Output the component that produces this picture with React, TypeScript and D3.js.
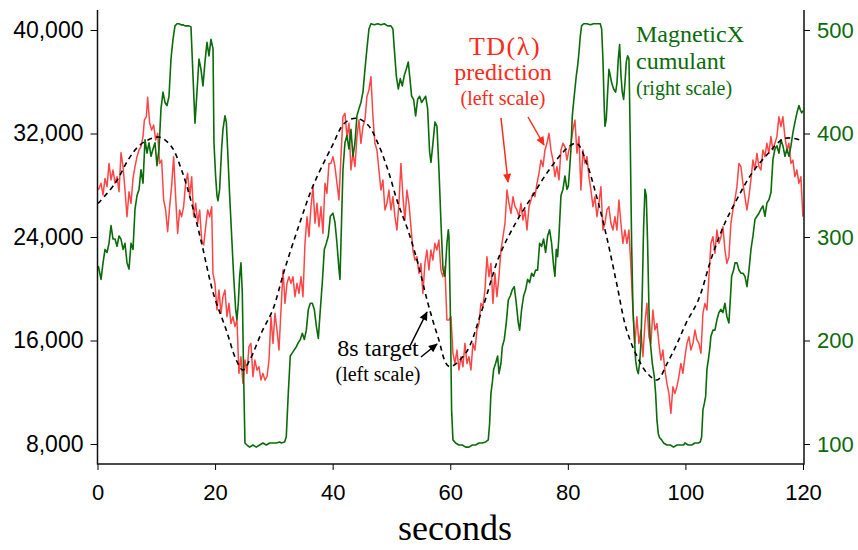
import React, { useEffect, useRef } from 'react';
import * as d3 from 'd3';

// TD(lambda) prediction, left scale
const tdTime = [
  0.14, 0.6, 0.94, 1.28, 1.62, 1.96, 2.3, 2.64, 2.98, 3.32, 3.66, 4.0, 4.34, 4.68, 5.02, 5.36, 5.7, 6.04, 6.38, 6.72,
  7.06, 7.4, 7.74, 7.97, 8.31, 8.53, 8.87, 9.21, 9.55, 9.89, 10.23, 10.57, 10.91, 11.25, 11.59, 11.93, 12.27, 12.6, 12.95, 13.29,
  13.63, 13.97, 14.31, 14.65, 14.99, 15.33, 15.68, 16.02, 16.36, 16.7, 17.04, 17.38, 17.72, 18.06, 18.4, 18.74, 19.08, 19.42,
  19.64, 19.98, 20.32, 20.66, 21.0, 21.34, 21.68, 22.02, 22.36, 22.7, 23.04, 23.38, 23.72, 24.06, 24.4, 24.74, 25.08, 25.42, 25.76, 26.1,
  26.44, 26.78, 27.12, 27.46, 27.8, 28.14, 28.48, 28.83, 29.17, 29.51, 29.85, 30.19, 30.53, 30.87, 31.21, 31.55, 31.89, 32.23, 32.57, 32.91,
  33.25, 33.59, 33.93, 34.27, 34.61, 34.95, 35.29, 35.63, 35.97, 36.31, 36.65, 36.99, 37.33, 37.67, 38.01, 38.35, 38.69, 39.03, 39.37,
  39.71, 40.05, 40.39, 40.73, 41.07, 41.41, 41.75, 42.09, 42.43, 42.77, 43.11, 43.45, 43.79, 44.13, 44.47, 44.81, 45.15, 45.49, 45.83, 46.17,
  46.51, 46.85, 47.19, 47.53, 47.87, 48.21, 48.55, 48.89, 49.23, 49.57, 49.91, 50.25, 50.59, 50.93, 51.27, 51.61, 51.95, 52.29, 52.63, 52.97,
  53.31, 53.65, 53.99, 54.33, 54.67, 55.01, 55.35, 55.69, 56.03, 56.37, 56.71, 57.05, 57.39, 57.73, 58.07, 58.41, 58.75, 59.09, 59.43,
  59.78, 60.12, 60.46, 60.8, 61.14, 61.48, 61.82, 62.16, 62.5, 62.84, 63.18, 63.52, 63.86, 64.2, 64.54, 64.88, 65.22, 65.56, 65.9, 66.24,
  66.58, 66.92, 67.26, 67.6, 67.94, 68.28, 68.63, 68.97, 69.31, 69.65, 69.99, 70.33, 70.67, 71.01, 71.35, 71.69, 72.03, 72.37, 72.71, 73.05,
  73.39, 73.73, 74.07, 74.41, 74.75, 75.09, 75.43, 75.77, 76.11, 76.45, 76.79, 77.13, 77.47, 77.81, 78.15, 78.49, 78.83, 79.17, 79.51,
  79.85, 80.19, 80.53, 80.87, 81.21, 81.55, 81.89, 82.23, 82.57, 82.91, 83.25, 83.59, 83.93, 84.27, 84.61, 84.95, 85.29, 85.63, 85.97, 86.31,
  86.65, 86.99, 87.33, 87.67, 88.01, 88.35, 88.69, 89.03, 89.37, 89.71, 90.05, 90.39, 90.73, 91.07, 91.41, 91.75, 92.09, 92.43, 92.77, 93.11,
  93.45, 93.79, 94.13, 94.47, 94.81, 95.15, 95.49, 95.83, 96.17, 96.51, 96.85, 97.19, 97.53, 97.87, 98.21, 98.55, 98.89, 99.23, 99.57,
  99.92, 100.26, 100.6, 100.94, 101.28, 101.62, 101.96, 102.3, 102.64, 102.98, 103.32, 103.66, 104.0, 104.34, 104.68, 105.02, 105.36, 105.7, 106.04, 106.38,
  106.72, 107.06, 107.4, 107.74, 108.08, 108.42, 108.76, 109.1, 109.44, 109.78, 110.12, 110.46, 110.8, 111.14, 111.48, 111.82, 112.16, 112.5, 112.84, 113.18,
  113.52, 113.86, 114.2, 114.54, 114.88, 115.22, 115.56, 115.9, 116.24, 116.58, 116.92, 117.26, 117.6, 117.94, 118.28, 118.62, 118.96, 119.3, 119.64, 119.98,
];
const tdValue = [
  27630, 28150, 27250, 28530, 27890, 29690, 28410, 29180, 28150, 28660, 27500, 30520, 29440, 27630, 25570, 27500, 26600, 28530, 29440, 30210,
  30730, 30980, 31760, 33040, 33300, 34800, 32790, 32270, 32660, 31500, 32010, 29690, 29950, 26860, 26090, 24410, 26340, 27890, 30210, 27120,
  24280, 26090, 25570, 26340, 28150, 28920, 27120, 28660, 25570, 26600, 25060, 26090, 23770, 23380, 24800, 26090, 25570, 26340,
  21190, 20420, 18360, 19900, 18100, 19390, 19900, 17840, 18870, 17320, 17840, 17070, 17580, 13460, 14750, 12690, 14490, 13460, 15520, 15780,
  13200, 14490, 13720, 13970, 12940, 13460, 12940, 13200, 14490, 17840, 15780, 18100, 16810, 15260, 18360, 21450, 18870, 20420, 20930, 20420,
  20930, 19390, 20420, 19640, 20930, 19390, 23510, 25570, 24020, 26340, 27890, 25060, 26600, 24800, 26340, 24280, 28150, 27380, 29690,
  29690, 30210, 29440, 28150, 26860, 30210, 33300, 33560, 31760, 32790, 29180, 30470, 29440, 31760, 33040, 31240, 32530, 33040, 34850, 35360,
  36390, 33300, 31240, 30730, 29180, 27630, 28410, 26090, 26600, 27630, 26090, 27120, 25570, 24540, 26600, 29690, 27120, 25310, 27630, 26600,
  24800, 22990, 22220, 22480, 21190, 21960, 19640, 21960, 22990, 21450, 22990, 22220, 23510, 22990, 23770, 21450, 20930, 21710, 17580,
  17580, 17840, 15010, 14230, 15260, 13720, 14750, 13970, 15780, 14230, 14750, 13720, 15780, 15260, 16810, 17320, 18870, 18610, 19900, 22480,
  20930, 21960, 18870, 21190, 19390, 20930, 22990, 24020, 25060, 27630, 26600, 25830, 27120, 26340, 26090, 25570, 26600, 25310, 26090, 24540,
  26340, 26860, 27380, 27120, 28150, 28920, 29950, 29440, 30730, 31240, 32010, 30730, 29950, 28660, 29440, 28410, 30730, 31240, 30980,
  29950, 30730, 31240, 32270, 33040, 30470, 31760, 27630, 30730, 29690, 30210, 28660, 27630, 26340, 27120, 25570, 26600, 27890, 24540, 25060,
  26090, 26340, 25060, 24540, 25570, 24540, 26860, 25060, 23510, 24540, 23510, 24540, 21710, 18360, 15780, 17840, 15780, 16810, 14750, 17320,
  18870, 16290, 15780, 18360, 16810, 17320, 15780, 14490, 15260, 13720, 12690, 11910, 10370, 12430, 11910, 12430, 13200, 14230, 13460,
  14750, 15780, 16290, 15260, 15780, 16810, 16040, 15780, 15010, 18100, 18870, 18360, 20930, 23510, 24020, 22740, 24540, 23510, 24020, 24800,
  22990, 21960, 22480, 25060, 26090, 26860, 27890, 29690, 29440, 28150, 27120, 26090, 27120, 28410, 29950, 29180, 30470, 29440, 29180, 30730,
  30210, 31240, 30470, 31760, 30730, 31240, 31760, 33300, 32530, 33300, 31760, 30730, 31240, 29690, 29950, 28660, 29180, 28150, 28660, 25570,
];

// MagneticX cumulant, right scale
const magTime = [
  0.14, 0.6, 0.94, 1.28, 1.62, 1.96, 2.3, 2.64, 2.98, 3.32, 3.66, 4.0, 4.34, 4.68, 5.02, 5.36, 5.7, 6.04, 6.38, 6.72,
  7.06, 7.4, 7.74, 8.08, 8.42, 8.76, 9.1, 9.44, 9.78, 10.12, 10.46, 10.8, 11.14, 11.48, 11.82, 12.16, 12.5, 12.84, 13.18, 13.52,
  13.86, 14.2, 14.54, 14.88, 15.22, 15.56, 15.9, 16.24, 16.58, 16.92, 17.26, 17.6, 17.94, 18.28, 18.62, 18.96, 19.3, 19.65,
  19.81, 20.09, 20.32, 20.49, 20.77, 21.11, 21.34, 21.68, 21.91, 22.13, 22.48, 22.82, 23.16, 23.5, 23.72, 23.95, 24.18, 24.4, 24.63, 24.86,
  25.08, 25.42, 25.88, 26.44, 27.01, 27.58, 28.14, 28.71, 29.28, 29.85, 30.41, 30.98, 31.26, 31.83, 32.11, 32.45, 32.79, 33.13, 33.47, 33.82,
  34.16, 34.5, 34.84, 35.18, 35.52, 35.86, 36.2, 36.54, 36.88, 37.22, 37.56, 37.9, 38.24, 38.58, 38.92, 39.26, 39.6,
  40.05, 40.39, 40.73, 41.07, 41.24, 41.41, 41.75, 42.09, 42.43, 42.77, 43.11, 43.45, 43.79, 44.13, 44.47, 44.81, 45.15, 45.49, 45.83, 46.17,
  46.51, 47.08, 47.65, 48.21, 48.78, 49.35, 49.91, 50.25, 50.48, 50.82, 51.16, 51.5, 51.84, 52.18, 52.52, 52.86, 53.09, 53.43, 53.77, 54.11,
  54.45, 54.79, 55.13, 55.47, 55.81, 56.15, 56.49, 56.72, 57.06, 57.4, 57.74, 58.08, 58.42, 58.76, 59.1, 59.44, 59.67,
  59.78, 60.01, 60.23, 60.46, 60.91, 61.48, 62.05, 62.62, 63.18, 63.75, 64.32, 64.88, 65.45, 66.02, 66.47, 66.7, 66.92, 67.15, 67.38, 67.72,
  68.06, 68.29, 68.63, 68.85, 69.19, 69.53, 69.87, 70.21, 70.55, 70.89, 71.23, 71.57, 71.8, 72.14, 72.48, 72.82, 73.16, 73.5, 73.84, 74.18,
  74.52, 74.86, 75.2, 75.54, 75.88, 76.22, 76.56, 76.9, 77.24, 77.58, 77.81, 78.04, 78.26, 78.49, 78.83, 79.17, 79.51,
  79.85, 80.08, 80.3, 80.53, 80.76, 80.98, 81.21, 81.44, 81.66, 81.89, 82.12, 82.34, 82.69, 83.25, 83.82, 84.39, 84.95, 85.52, 85.75, 85.97,
  86.2, 86.31, 86.54, 86.77, 86.99, 87.22, 87.45, 87.79, 88.13, 88.36, 88.58, 88.81, 89.04, 89.26, 89.49, 89.72, 89.94, 90.17, 90.4, 90.62,
  90.85, 91.08, 91.3, 91.53, 91.76, 91.98, 92.21, 92.44, 92.66, 92.89, 93.12, 93.34, 93.57, 93.8, 94.03, 94.37, 94.71, 94.93, 95.16, 95.39,
  95.61, 95.95, 96.29, 96.86, 97.43, 97.99, 98.56, 99.13, 99.7,
  99.92, 100.49, 101.05, 101.62, 102.19, 102.53, 102.76, 102.98, 103.21, 103.44, 103.66, 103.89, 104.12, 104.34, 104.68, 105.02, 105.36, 105.7, 106.04, 106.38,
  106.72, 107.06, 107.4, 107.63, 107.86, 108.2, 108.43, 108.77, 109.11, 109.45, 109.79, 110.13, 110.47, 110.81, 111.15, 111.49, 111.83, 112.17, 112.51, 112.85,
  113.19, 113.53, 113.87, 114.21, 114.55, 114.89, 115.23, 115.57, 115.91, 116.25, 116.59, 116.93, 117.27, 117.61, 117.95, 118.29, 118.63, 118.97, 119.31, 119.54,
  119.77, 120.0,
];
const magValue = [
  272, 259, 275, 288, 285, 294, 311, 298, 298, 291, 301, 298, 288, 294, 275, 269, 294, 288, 327, 340,
  346, 365, 352, 394, 381, 391, 378, 385, 391, 369, 385, 424, 440, 430, 427, 436, 472, 491, 504, 506,
  506, 505, 505, 504, 504, 504, 503, 456, 410, 440, 472, 462, 446, 469, 488, 475, 491, 482,
  391, 359, 340, 335, 346, 385, 404, 417, 411, 385, 340, 301, 262, 230, 220, 236, 262, 275, 246, 165,
  101, 99, 97, 99, 97, 99, 101, 99, 101, 101, 101, 102, 101, 102, 107, 149, 185, 188, 191, 194,
  198, 201, 207, 201, 210, 230, 236, 236, 230, 214, 202, 230, 256, 288, 294, 301, 320,
  323, 314, 294, 269, 259, 294, 365, 391, 398, 385, 404, 378, 391, 417, 424, 430, 440, 462, 482, 501,
  506, 505, 506, 505, 506, 504, 504, 501, 482, 456, 443, 453, 446, 456, 462, 469, 456, 436, 433, 417,
  433, 436, 430, 433, 436, 424, 382, 372, 391, 411, 407, 365, 314, 269, 262, 294, 307,
  301, 230, 133, 104, 101, 99, 99, 97, 97, 99, 99, 101, 101, 102, 104, 120, 149, 159, 172, 178,
  185, 168, 178, 194, 201, 217, 239, 243, 249, 252, 236, 217, 210, 230, 243, 249, 259, 256, 265, 262,
  268, 268, 294, 291, 298, 285, 301, 307, 294, 272, 262, 288, 281, 301, 340, 346, 359,
  346, 349, 365, 385, 417, 430, 443, 456, 465, 478, 494, 504, 506, 506, 505, 506, 506, 506, 501, 472,
  424, 407, 414, 440, 462, 456, 449, 443, 440, 449, 472, 486, 456, 440, 433, 449, 469, 475, 472, 391,
  294, 230, 204, 181, 172, 168, 178, 198, 246, 310, 346, 340, 294, 230, 198, 178, 165, 149, 123, 110,
  106, 104, 101, 99, 99, 97, 99, 99, 99,
  101, 99, 99, 101, 101, 102, 107, 133, 139, 146, 172, 181, 191, 204, 210, 210, 220, 227, 230, 227,
  236, 223, 217, 239, 262, 268, 275, 275, 268, 265, 265, 262, 252, 268, 288, 301, 317, 320, 323, 327,
  330, 320, 333, 336, 343, 375, 385, 388, 381, 394, 388, 378, 385, 378, 388, 401, 411, 420, 427, 423,
  420, 422,
];

// 8s target, left scale
const targetTime = [
  0.1, 3, 5.2, 6.9, 8.6, 10.6, 12.6, 14.3, 16, 17.7, 19.7, 21.9, 23.6, 24.7, 25.9, 28.1, 29.8, 31.8, 34.4, 36.6,
  39.85, 42, 44, 46, 47.7, 49.4, 51.1, 52.8, 54.5, 56.2, 57.9, 59.8, 62.6, 65.4, 68.3, 71.1, 73.9, 76.8, 79.85, 81.5,
  83.2, 84.9, 86.6, 88.3, 90, 91.8, 93.5, 95.2, 96.9, 98.6, 100.1, 102.2, 104.5, 106.7, 109, 111.3, 114.1, 116.9, 119.5,
];
const targetValue = [
  26600, 28150, 29950, 30980, 31500, 31710, 30980, 29180, 26630, 23540, 19650, 16810, 14490, 13720, 14490, 16810, 18360, 21450, 25080, 27890,
  30980, 32790, 33180, 32660, 31240, 29180, 26610, 24540, 21970, 18880, 16290, 14000, 15010, 18360, 22480, 25060, 27120, 29180, 30850, 31240,
  29700, 27120, 24020, 20420, 16810, 14750, 13470, 12950, 14240, 15780, 17330, 19130, 22480, 25060, 27120, 28920, 30470, 31630, 31500,
];

const xTicks = [0, 20, 40, 60, 80, 100, 120];
const leftTicks = [8000, 16000, 24000, 32000, 40000];
const rightTicks = [100, 200, 300, 400, 500];

const RED = '#ff4646';
const GREEN = '#0b6b0b';
const SANS = "'Liberation Sans', Arial, Helvetica, sans-serif";
const SERIF = "'Liberation Serif', 'Times New Roman', serif";

const App = () => {
  const chartRef = useRef(null);

  useEffect(() => {
    const svg = d3.select(chartRef.current);
    svg.selectAll('*').remove();

    const left = 97.5, right = 804, top = 10, bottom = 464;

    const x = d3.scaleLinear().domain([0, 120]).range([left, 803]);
    const yL = d3.scaleLinear().domain([8000, 40000]).range([444, 30]);
    const yR = d3.scaleLinear().domain([100, 500]).range([444, 30]);

    const defs = svg.append('defs');
    const marker = (id, color) =>
      defs.append('marker')
        .attr('id', id)
        .attr('viewBox', '0 0 10 10')
        .attr('refX', 9).attr('refY', 5)
        .attr('markerWidth', 11).attr('markerHeight', 9)
        .attr('markerUnits', 'userSpaceOnUse')
        .attr('orient', 'auto')
        .append('path').attr('d', 'M0,0.5 L10,5 L0,9.5 Z').attr('fill', color);
    marker('arrRed', '#ff2a1a');
    marker('arrBlack', '#000');

    // series
    const tdLine = d3.line().x((d, i) => x(tdTime[i])).y((d) => yL(d));
    svg.append('path').datum(tdValue).attr('d', tdLine)
      .attr('fill', 'none').attr('stroke', RED).attr('stroke-width', 1.5).attr('stroke-linejoin', 'round');

    const magLine = d3.line().x((d, i) => x(magTime[i])).y((d) => yR(d));
    svg.append('path').datum(magValue).attr('d', magLine)
      .attr('fill', 'none').attr('stroke', GREEN).attr('stroke-width', 1.6).attr('stroke-linejoin', 'round');

    const targetLine = d3.line().curve(d3.curveCatmullRom).x((d, i) => x(targetTime[i])).y((d) => yL(d));
    svg.append('path').datum(targetValue).attr('d', targetLine)
      .attr('fill', 'none').attr('stroke', '#000').attr('stroke-width', 1.6).attr('stroke-dasharray', '5,4');

    // axes
    const gx = svg.append('g').attr('transform', `translate(0,${bottom})`)
      .call(d3.axisBottom(x).tickValues(xTicks).tickSize(6).tickPadding(14));
    gx.select('.domain').remove();
    gx.selectAll('text').attr('font-size', 22).attr('font-family', SANS).attr('fill', '#000');

    const gl = svg.append('g').attr('transform', `translate(${left},0)`)
      .call(d3.axisLeft(yL).tickValues(leftTicks).tickFormat(d3.format(',')).tickSize(7).tickPadding(7));
    gl.select('.domain').remove();
    gl.selectAll('text').attr('font-size', 23).attr('font-family', SANS).attr('fill', '#000');

    const gr = svg.append('g').attr('transform', `translate(${right},0)`)
      .call(d3.axisRight(yR).tickValues(rightTicks).tickSize(6).tickPadding(7));
    gr.select('.domain').remove();
    gr.selectAll('text').attr('font-size', 22).attr('font-family', SANS).attr('fill', GREEN);

    svg.append('path')
      .attr('d', `M${left},${top} V${bottom} H${right} V${top}`)
      .attr('fill', 'none').attr('stroke', '#111').attr('stroke-width', 1.5);

    svg.append('text').attr('x', 455).attr('y', 540).attr('text-anchor', 'middle')
      .attr('font-family', SERIF).attr('font-size', 36).text('seconds');

    // annotations
    const red = svg.append('g').attr('fill', '#ff2a1a').attr('font-family', SERIF).attr('text-anchor', 'middle');
    red.append('text').attr('x', 505).attr('y', 55).attr('font-size', 26).attr('letter-spacing', 1.5).text('TD(λ)');
    red.append('text').attr('x', 503).attr('y', 80).attr('font-size', 24).text('prediction');
    red.append('text').attr('x', 503).attr('y', 105).attr('font-size', 20).text('(left scale)');

    const green = svg.append('g').attr('fill', GREEN).attr('font-family', SERIF);
    green.append('text').attr('x', 636).attr('y', 42).attr('font-size', 24).text('MagneticX');
    green.append('text').attr('x', 636).attr('y', 69).attr('font-size', 24).text('cumulant');
    green.append('text').attr('x', 636).attr('y', 95).attr('font-size', 20).text('(right scale)');

    const black = svg.append('g').attr('fill', '#000').attr('font-family', SERIF).attr('text-anchor', 'middle');
    black.append('text').attr('x', 378).attr('y', 356).attr('font-size', 24).text('8s target');
    black.append('text').attr('x', 378).attr('y', 381).attr('font-size', 20).text('(left scale)');

    const arrow = (x1, y1, x2, y2, color, id) =>
      svg.append('line').attr('x1', x1).attr('y1', y1).attr('x2', x2).attr('y2', y2)
        .attr('stroke', color).attr('stroke-width', 1.5).attr('marker-end', `url(#${id})`);
    arrow(501, 118, 508, 182, '#ff2a1a', 'arrRed');
    arrow(528, 117, 544, 145, '#ff2a1a', 'arrRed');
    arrow(410, 346, 427, 312, '#000', 'arrBlack');
    arrow(421, 357, 437, 344, '#000', 'arrBlack');
  }, []);

  return (
    <svg
      ref={chartRef}
      width={858}
      height={550}
      style={{ position: 'absolute', left: 0, top: 0, background: '#fff' }}
    ></svg>
  );
};

export default App;
